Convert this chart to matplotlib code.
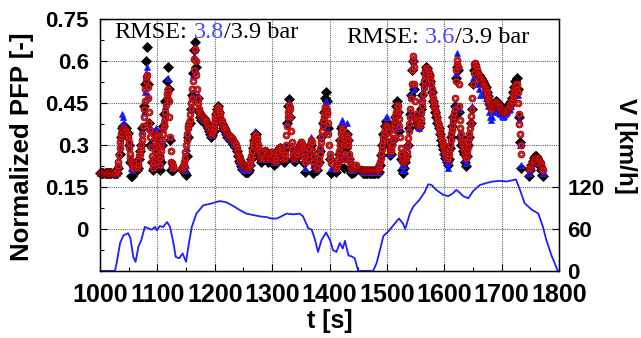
import numpy as np
import matplotlib
matplotlib.use("Agg")
import matplotlib.pyplot as plt
from matplotlib.ticker import MultipleLocator
from matplotlib.path import Path

N = np.nan

# red circles: 1 s sampling starting at 1000 s
red_start, red_step = 1000, 1
red_v = [
    0.20, 0.20, 0.20, 0.20, 0.20, 0.20, 0.20, 0.20, 0.20, 0.20,
    0.20, 0.20, 0.20, 0.20, 0.20, 0.20, 0.20, 0.20, 0.20, 0.20,
    0.20, 0.20, 0.20, 0.20, 0.20, 0.20, 0.20, 0.20, 0.20, 0.205,
    0.21, 0.225, 0.24, 0.265, 0.29, 0.31, 0.33, 0.34, 0.35, 0.355,
    0.36, 0.36, 0.36, 0.358, 0.355, 0.352, 0.35, 0.345, 0.34, 0.325,
    0.31, 0.29, 0.27, 0.255, 0.24, 0.235, 0.23, 0.225, 0.22, N,
    N, N, N, N, 0.22, 0.225, 0.23, 0.245, 0.26, 0.27,
    0.28, 0.29, 0.30, 0.32, 0.34, 0.37, 0.40, 0.43, 0.46, 0.50,
    0.53, 0.545, 0.55, 0.51, 0.47, 0.42, 0.38, 0.355, 0.33, 0.295,
    0.26, 0.24, 0.22, 0.235, 0.25, 0.28, 0.31, 0.325, 0.34, 0.335,
    0.33, 0.30, 0.27, 0.25, 0.23, 0.255, 0.28, 0.30, 0.32, 0.34,
    0.36, 0.37, 0.38, 0.40, 0.42, 0.445, 0.47, 0.485, 0.50, 0.49,
    0.46, 0.40, 0.33, 0.28, 0.24, 0.235, 0.23, 0.225, 0.22, N,
    N, N, N, N, N, N, N, N, N, N,
    N, N, 0.215, 0.22, 0.22, 0.225, 0.23, 0.24, 0.255, 0.275,
    0.30, 0.32, 0.34, 0.36, 0.37, 0.38, 0.39, 0.41, 0.43, 0.45,
    0.47, 0.50, 0.53, 0.57, 0.61, 0.64, 0.645, 0.60, 0.55, 0.50,
    0.47, 0.45, 0.43, 0.42, 0.41, 0.405, 0.40, 0.405, 0.405, 0.40,
    0.40, 0.398, 0.395, 0.39, 0.39, 0.385, 0.38, 0.375, 0.37, 0.365,
    0.36, 0.355, 0.35, 0.345, 0.34, 0.34, 0.345, 0.35, 0.36, 0.375,
    0.39, 0.40, 0.41, 0.42, 0.425, 0.43, 0.435, 0.43, 0.42, 0.41,
    0.40, 0.39, 0.385, 0.38, 0.37, 0.368, 0.365, 0.362, 0.36, 0.355,
    0.35, 0.345, 0.34, 0.338, 0.335, 0.333, 0.33, 0.33, 0.33, 0.328,
    0.325, 0.32, 0.315, 0.312, 0.31, 0.308, 0.305, 0.30, 0.29, 0.28,
    0.27, 0.265, 0.26, 0.255, 0.25, 0.245, 0.24, 0.238, 0.235, 0.232,
    0.23, 0.228, 0.225, 0.222, 0.22, 0.22, 0.22, 0.22, 0.22, 0.222,
    0.225, 0.23, 0.24, 0.25, 0.26, 0.28, 0.30, 0.31, 0.32, 0.33,
    0.335, 0.336, 0.335, 0.325, 0.31, 0.30, 0.29, 0.28, 0.27, 0.262,
    0.255, 0.253, 0.255, 0.26, 0.265, 0.272, 0.28, 0.282, 0.28, 0.275,
    0.27, 0.262, 0.255, 0.253, 0.255, 0.26, 0.265, 0.27, 0.275, 0.277,
    0.275, 0.268, 0.26, 0.252, 0.245, 0.243, 0.245, 0.255, 0.265, 0.275,
    0.285, 0.288, 0.29, 0.293, 0.295, 0.29, 0.285, 0.278, 0.27, 0.262,
    0.255, 0.252, 0.255, 0.27, 0.30, 0.335, 0.37, 0.40, 0.42, 0.435,
    0.445, 0.43, 0.40, 0.35, 0.31, 0.29, 0.27, 0.26, 0.255, 0.253,
    0.255, 0.257, 0.26, 0.265, 0.27, 0.278, 0.285, 0.292, 0.30, 0.305,
    0.31, 0.31, 0.305, 0.298, 0.29, 0.275, 0.26, 0.25, 0.24, N,
    N, N, N, 0.25, 0.27, 0.285, 0.30, 0.31, 0.32, 0.31,
    0.28, 0.26, 0.24, N, N, N, N, 0.22, 0.22, N,
    N, 0.235, 0.25, 0.27, 0.29, 0.31, 0.33, 0.35, 0.37, 0.385,
    0.40, 0.415, 0.43, 0.435, 0.43, 0.42, 0.41, 0.38, 0.34, 0.30,
    0.27, 0.25, 0.235, N, N, N, N, N, N, N,
    N, N, 0.22, 0.225, 0.235, 0.25, 0.265, 0.28, 0.30, 0.32,
    0.345, 0.36, 0.355, 0.33, 0.30, 0.27, 0.25, 0.27, 0.30, 0.32,
    0.335, 0.33, 0.32, 0.30, 0.27, 0.25, 0.24, 0.23, 0.22, 0.218,
    0.215, 0.217, 0.22, 0.222, 0.225, 0.228, 0.23, N, N, N,
    N, N, N, N, N, 0.215, 0.212, 0.21, 0.21, 0.21,
    0.21, 0.21, 0.21, 0.21, 0.21, 0.21, 0.21, 0.21, 0.21, 0.21,
    0.21, 0.21, 0.21, 0.21, 0.21, 0.21, 0.21, 0.21, 0.21, 0.21,
    0.21, 0.21, 0.21, 0.21, 0.212, 0.215, 0.22, 0.23, 0.24, 0.255,
    0.27, 0.285, 0.30, 0.315, 0.33, 0.345, 0.355, 0.365, 0.37, 0.372,
    0.37, 0.365, 0.35, 0.33, 0.31, 0.29, 0.28, 0.278, 0.285, 0.30,
    0.32, 0.34, 0.36, 0.375, 0.39, 0.405, 0.42, 0.435, 0.445, 0.44,
    0.42, 0.395, 0.37, 0.33, 0.29, 0.27, 0.255, 0.245, 0.24, 0.24,
    0.245, 0.248, 0.25, 0.255, 0.26, 0.275, 0.30, 0.325, 0.35, 0.375,
    0.40, 0.43, 0.47, 0.52, 0.57, 0.605, 0.62, 0.58, 0.52, 0.46,
    0.41, 0.395, 0.385, 0.38, 0.375, 0.372, 0.37, 0.372, 0.38, 0.395,
    0.42, 0.44, 0.46, 0.485, 0.51, 0.53, 0.55, 0.565, 0.575, 0.578,
    0.575, 0.57, 0.565, 0.56, 0.555, 0.545, 0.535, 0.52, 0.50, 0.485,
    0.47, 0.46, 0.45, 0.44, 0.43, 0.42, 0.41, 0.40, 0.39, 0.38,
    0.37, 0.36, 0.35, 0.34, 0.33, 0.322, 0.315, 0.305, 0.295, 0.288,
    0.28, 0.275, 0.27, 0.262, 0.255, 0.252, 0.25, 0.258, 0.27, 0.285,
    0.30, 0.32, 0.34, 0.355, 0.37, 0.385, 0.40, 0.415, 0.43, 0.47,
    0.53, 0.57, 0.59, 0.605, 0.58, 0.52, 0.44, 0.39, 0.36, 0.34,
    0.32, 0.31, 0.30, 0.295, 0.29, 0.28, 0.27, 0.262, 0.255, 0.265,
    0.28, 0.295, 0.31, 0.325, 0.34, 0.36, 0.38, 0.405, 0.43, 0.47,
    0.52, 0.56, 0.59, 0.595, 0.59, 0.585, 0.58, 0.57, 0.56, 0.555,
    0.55, 0.545, 0.54, 0.537, 0.535, 0.532, 0.53, 0.525, 0.52, 0.518,
    0.515, 0.508, 0.50, 0.495, 0.49, 0.48, 0.47, 0.462, 0.455, 0.448,
    0.44, 0.435, 0.43, 0.435, 0.44, 0.443, 0.445, 0.448, 0.45, 0.453,
    0.455, 0.453, 0.45, 0.448, 0.445, 0.442, 0.44, 0.435, 0.43, 0.428,
    0.425, 0.422, 0.42, 0.42, 0.42, 0.42, 0.42, 0.422, 0.425, 0.428,
    0.43, 0.432, 0.435, 0.438, 0.44, 0.445, 0.45, 0.455, 0.46, 0.47,
    0.48, 0.49, 0.50, 0.508, 0.515, 0.52, 0.52, 0.50, 0.49, 0.45,
    0.41, 0.375, 0.34, 0.30, 0.27, N, N, N, N, N,
    N, N, N, N, N, N, N, N, 0.215, 0.218,
    0.22, 0.225, 0.23, 0.235, 0.24, 0.245, 0.25, 0.252, 0.255, 0.255,
    0.255, 0.255, 0.255, 0.253, 0.25, 0.248, 0.245, 0.24, 0.235, 0.23,
    0.22, 0.215, 0.21,
]

# black diamonds: 2 s sampling starting at 1000 s
black_start, black_step = 1000, 2
black_v = [
    0.20, 0.20, 0.20, 0.20, 0.20, 0.20, 0.20, 0.20, 0.20, 0.20,
    0.20, 0.20, 0.20, 0.20, 0.20, 0.20, 0.22, 0.27, 0.33, 0.36,
    0.37, 0.37, 0.365, 0.36, 0.345, 0.30, 0.24, 0.19, 0.19, N,
    N, N, 0.21, 0.22, 0.25, 0.28, 0.30, 0.36, 0.44, 0.52,
    0.60, 0.65, 0.52, 0.38, 0.30, 0.24, 0.21, 0.22, 0.29, 0.35,
    0.34, 0.26, 0.21, 0.24, 0.30, 0.37, 0.41, 0.46, 0.53, 0.58,
    0.50, 0.32, 0.21, 0.21, 0.21, N, N, N, N, N,
    N, N, 0.21, 0.205, 0.20, 0.195, 0.26, 0.33, 0.38, 0.43,
    0.48, 0.56, 0.64, 0.67, 0.58, 0.47, 0.42, 0.40, 0.39, 0.39,
    0.39, 0.385, 0.38, 0.37, 0.36, 0.35, 0.34, 0.33, 0.335, 0.35,
    0.38, 0.41, 0.43, 0.44, 0.42, 0.39, 0.375, 0.36, 0.355, 0.35,
    0.34, 0.33, 0.325, 0.32, 0.32, 0.315, 0.305, 0.30, 0.295, 0.28,
    0.26, 0.245, 0.235, 0.225, 0.215, 0.21, 0.205, 0.205, 0.205, 0.205,
    0.21, 0.23, 0.25, 0.29, 0.32, 0.34, 0.34, 0.30, 0.27, 0.255,
    0.24, 0.245, 0.26, 0.27, 0.265, 0.255, 0.24, 0.245, 0.26, 0.27,
    0.26, 0.245, 0.23, 0.235, 0.26, 0.28, 0.285, 0.29, 0.28, 0.26,
    0.24, 0.245, 0.29, 0.38, 0.44, 0.465, 0.40, 0.29, 0.25, 0.245,
    0.245, 0.255, 0.265, 0.28, 0.295, 0.305, 0.30, 0.28, 0.235, 0.205,
    N, N, 0.26, 0.29, 0.30, 0.25, 0.20, N, N, 0.21,
    N, 0.24, 0.28, 0.33, 0.38, 0.42, 0.47, 0.49, 0.46, 0.36,
    0.25, 0.20, N, N, N, N, 0.205, 0.23, 0.27, 0.32,
    0.36, 0.37, 0.30, 0.22, 0.29, 0.34, 0.32, 0.25, 0.21, 0.20,
    0.20, 0.205, 0.21, 0.215, N, N, N, N, 0.205, 0.20,
    0.20, 0.20, 0.20, 0.20, 0.20, 0.20, 0.20, 0.20, 0.20, 0.20,
    0.20, 0.20, 0.20, 0.205, 0.23, 0.265, 0.30, 0.34, 0.37, 0.385,
    0.38, 0.35, 0.30, 0.265, 0.27, 0.32, 0.37, 0.40, 0.44, 0.46,
    0.42, 0.35, 0.25, 0.21, 0.20, 0.22, 0.24, 0.26, 0.30, 0.36,
    0.41, 0.48, 0.57, 0.60, 0.50, 0.40, 0.38, 0.37, 0.365, 0.38,
    0.43, 0.48, 0.52, 0.56, 0.58, 0.575, 0.56, 0.55, 0.53, 0.49,
    0.46, 0.44, 0.42, 0.40, 0.38, 0.36, 0.34, 0.32, 0.30, 0.285,
    0.27, 0.255, 0.24, 0.23, 0.25, 0.29, 0.33, 0.37, 0.40, 0.44,
    0.54, 0.58, 0.57, 0.42, 0.33, 0.30, 0.28, 0.27, 0.24, 0.225,
    0.26, 0.30, 0.33, 0.38, 0.43, 0.52, 0.57, 0.57, 0.56, 0.55,
    0.55, 0.545, 0.54, 0.535, 0.525, 0.52, 0.51, 0.49, 0.475, 0.46,
    0.445, 0.44, 0.445, 0.45, 0.455, 0.46, 0.455, 0.45, 0.445, 0.44,
    0.435, 0.43, 0.43, 0.43, 0.435, 0.44, 0.445, 0.45, 0.46, 0.47,
    0.49, 0.51, 0.53, 0.54, 0.50, 0.40, 0.31, 0.22, N, N,
    N, N, N, N, 0.19, 0.21, 0.23, 0.245, 0.255, 0.26,
    0.26, 0.255, 0.245, 0.23, 0.21, 0.195, 0.19,
]

# blue triangles: 2 s sampling starting at 1000 s
blue_start, blue_step = 1000, 2
blue_v = [
    0.20, 0.20, 0.20, 0.20, 0.20, 0.20, 0.20, 0.20, 0.20, 0.20,
    0.20, 0.20, 0.20, 0.20, 0.20, 0.20, 0.23, 0.30, 0.37, 0.41,
    0.40, 0.38, 0.37, 0.36, 0.34, 0.30, 0.25, 0.22, 0.21, N,
    N, N, 0.22, 0.23, 0.26, 0.29, 0.31, 0.35, 0.42, 0.49,
    0.56, 0.58, 0.48, 0.36, 0.30, 0.25, 0.23, 0.24, 0.30, 0.36,
    0.35, 0.28, 0.23, 0.26, 0.31, 0.37, 0.40, 0.44, 0.50, 0.54,
    0.47, 0.33, 0.23, 0.22, 0.22, N, N, N, N, N,
    N, N, 0.22, 0.22, 0.21, 0.23, 0.29, 0.34, 0.38, 0.43,
    0.48, 0.55, 0.62, 0.65, 0.57, 0.48, 0.43, 0.41, 0.40, 0.40,
    0.395, 0.39, 0.385, 0.375, 0.365, 0.355, 0.345, 0.335, 0.34, 0.355,
    0.385, 0.41, 0.43, 0.44, 0.42, 0.395, 0.38, 0.365, 0.36, 0.352,
    0.342, 0.333, 0.328, 0.325, 0.322, 0.318, 0.31, 0.305, 0.298, 0.285,
    0.265, 0.25, 0.24, 0.23, 0.222, 0.215, 0.212, 0.21, 0.212, 0.215,
    0.22, 0.235, 0.255, 0.30, 0.33, 0.35, 0.34, 0.305, 0.28, 0.26,
    0.25, 0.25, 0.262, 0.275, 0.272, 0.262, 0.25, 0.25, 0.262, 0.272,
    0.268, 0.255, 0.24, 0.24, 0.262, 0.282, 0.288, 0.292, 0.282, 0.265,
    0.25, 0.25, 0.30, 0.38, 0.43, 0.455, 0.41, 0.30, 0.26, 0.25,
    0.25, 0.258, 0.268, 0.282, 0.298, 0.31, 0.305, 0.285, 0.25, 0.22,
    N, N, 0.28, 0.31, 0.33, 0.27, 0.23, N, N, 0.215,
    N, 0.245, 0.29, 0.33, 0.37, 0.41, 0.45, 0.46, 0.44, 0.35,
    0.26, 0.22, N, N, N, N, 0.215, 0.24, 0.28, 0.33,
    0.38, 0.39, 0.31, 0.25, 0.31, 0.38, 0.33, 0.27, 0.23, 0.215,
    0.21, 0.215, 0.22, 0.225, N, N, N, N, 0.21, 0.205,
    0.205, 0.205, 0.205, 0.205, 0.205, 0.205, 0.205, 0.205, 0.205, 0.205,
    0.205, 0.205, 0.205, 0.21, 0.23, 0.26, 0.30, 0.34, 0.375, 0.40,
    0.40, 0.36, 0.30, 0.27, 0.28, 0.31, 0.36, 0.39, 0.43, 0.44,
    0.42, 0.36, 0.27, 0.23, 0.21, 0.23, 0.245, 0.26, 0.30, 0.36,
    0.41, 0.48, 0.58, 0.60, 0.50, 0.40, 0.375, 0.365, 0.36, 0.375,
    0.42, 0.47, 0.51, 0.55, 0.57, 0.57, 0.56, 0.545, 0.525, 0.49,
    0.46, 0.44, 0.42, 0.40, 0.38, 0.36, 0.34, 0.32, 0.30, 0.28,
    0.265, 0.25, 0.235, 0.22, 0.245, 0.29, 0.33, 0.37, 0.40, 0.44,
    0.56, 0.63, 0.58, 0.43, 0.34, 0.31, 0.29, 0.275, 0.25, 0.235,
    0.265, 0.30, 0.33, 0.38, 0.44, 0.54, 0.59, 0.58, 0.56, 0.52,
    0.50, 0.48, 0.48, 0.485, 0.49, 0.48, 0.47, 0.46, 0.44, 0.42,
    0.40, 0.39, 0.40, 0.42, 0.43, 0.435, 0.43, 0.42, 0.415, 0.41,
    0.405, 0.40, 0.405, 0.41, 0.415, 0.42, 0.425, 0.43, 0.44, 0.45,
    0.47, 0.49, 0.51, 0.52, 0.48, 0.39, 0.30, 0.23, N, N,
    N, N, N, N, 0.20, 0.215, 0.235, 0.245, 0.25, 0.255,
    0.255, 0.25, 0.24, 0.235, 0.22, 0.21, 0.20,
]

# vehicle speed line (right axis)
speed_t = [1000, 1026, 1029, 1035, 1041, 1049, 1053, 1058, 1062, 1067,
           1072, 1078, 1084, 1090, 1096, 1099, 1104, 1110, 1117, 1122,
           1128, 1132, 1138, 1144, 1150, 1154, 1160, 1168, 1180, 1192,
           1200, 1209, 1221, 1232, 1244, 1255, 1267, 1279, 1290, 1299,
           1308, 1316, 1325, 1337, 1348, 1354, 1363, 1369, 1375, 1380,
           1386, 1394, 1401, 1406, 1412, 1418, 1423, 1427, 1433, 1438,
           1444, 1450, 1476, 1482, 1488, 1494, 1502, 1505, 1514, 1521,
           1528, 1532, 1540, 1546, 1557, 1566, 1572, 1578, 1586, 1598,
           1607, 1615, 1621, 1627, 1633, 1642, 1650, 1662, 1674, 1685,
           1697, 1708, 1720, 1725, 1732, 1740, 1752, 1764, 1772, 1778,
           1787, 1796, 1798]
speed_v = [0, 0, 11, 40, 51, 54, 47, 20, 13, 35,
           44, 63, 61, 59, 63, 58, 64, 63, 70, 63,
           40, 20, 18, 25, 13, 35, 63, 82, 94, 96,
           98, 100, 98, 93, 87, 82, 80, 78, 77, 75,
           75, 78, 82, 81, 82, 78, 61, 59, 44, 27,
           44, 55, 44, 30, 27, 40, 32, 43, 22, 21,
           18, 0, 0, 11, 30, 50, 56, 59, 68, 75,
           68, 60, 82, 92, 102, 113, 124, 123, 116, 109,
           107, 111, 116, 112, 107, 104, 114, 123, 126, 128,
           129, 128, 130, 131, 116, 97, 88, 82, 63, 44,
           22, 4, 0]

x_ticks = [1000, 1100, 1200, 1300, 1400, 1500, 1600, 1700, 1800]
y_ticks = [0, 0.15, 0.3, 0.45, 0.6, 0.75]
y_ticklabels = ["0", "0.15", "0.3", "0.45", "0.6", "0.75"]
v_ticks = [0, 60, 120]

SANS = "Liberation Sans"
SERIF = "Liberation Serif"

red_t = red_start + red_step * np.arange(len(red_v))
black_t = black_start + black_step * np.arange(len(black_v))
blue_t = blue_start + blue_step * np.arange(len(blue_v))

# ring-shaped marker (red ring with hollow centre)
ang = np.linspace(0, 2 * np.pi, 25)
outer = np.column_stack([np.cos(ang), np.sin(ang)])
inner = 0.45 * np.column_stack([np.cos(ang[::-1]), np.sin(ang[::-1])])
ring_codes = ([Path.MOVETO] + [Path.LINETO] * 23 + [Path.CLOSEPOLY]) * 2
ring = Path(np.vstack([outer, inner]), ring_codes)

fig = plt.figure(figsize=(6.41, 3.38), dpi=100)
ax = fig.add_axes([100/641, 1-270.9/338, 459/641, 251.4/338])

ax.plot(black_t, black_v, ls="none", marker="D", ms=4.6, mfc="black", mec="black",
        mew=0.5, clip_on=False, zorder=3)
ax.plot(blue_t, blue_v, ls="none", marker="^", ms=4.8, mfc="#0a0aff", mec="#2a2aff",
        mew=0.6, clip_on=False, zorder=4)
ax.plot(red_t, red_v, ls="none", marker=ring, ms=5.0, mfc="#ee2222", mec="#8a0000",
        mew=0.55, clip_on=False, zorder=5)

ax.set_xlim(1000, 1800)
ax.set_ylim(-0.15, 0.75)
ax.set_xticks(x_ticks)
ax.xaxis.set_minor_locator(MultipleLocator(50))
ax.set_yticks(y_ticks)
ax.set_yticklabels(y_ticklabels)
ax.yaxis.set_minor_locator(MultipleLocator(0.075))
ax.grid(True, which="major", linestyle=(0, (1, 1)), color="#666666", lw=0.8)
ax.tick_params(which="both", direction="in", width=0.8)
ax.tick_params(which="major", length=5)
ax.tick_params(which="minor", length=3)
ax.tick_params(axis="x", labelsize=18, pad=8.5)
ax.tick_params(axis="y", labelsize=16, pad=8)
for lab in ax.get_xticklabels() + ax.get_yticklabels():
    lab.set_fontfamily(SANS)
    lab.set_fontweight("bold")
for s in ax.spines.values():
    s.set_linewidth(1.0)

ax.set_xlabel("t [s]", fontsize=18, fontweight="bold", family=SANS, labelpad=1.5)

ax2 = ax.twinx()
ax2.plot(speed_t, speed_v, color="#1f1fff", lw=1.3, zorder=2)
ax2.set_ylim(0, 360)
ax2.set_yticks(v_ticks)
ax2.tick_params(direction="in", length=5, width=0.8, labelsize=16, pad=6)
for lab in ax2.get_yticklabels():
    lab.set_fontfamily(SANS)
    lab.set_fontweight("bold")

fig.text(22/641, 1-147/338, "Normalized PFP [-]", rotation=90, ha="center", va="center",
         fontsize=18.5, fontweight="bold", family=SANS)
fig.text(626/641, 1-146/338, "V [km/h]", rotation=270, ha="center", va="center",
         fontsize=17.5, fontweight="bold", family=SANS)

def rmse_text(x, y, val):
    t1 = fig.text(x, y, "RMSE:", fontsize=17.5, family=SERIF, ha="left", va="baseline")
    t2 = ax.annotate(val, xy=(1, 0), xycoords=t1, xytext=(4.4, 0), textcoords="offset points",
                     fontsize=17.5, family=SERIF, color="#4848ff", ha="left", va="bottom")
    ax.annotate("/3.9 bar", xy=(1, 0), xycoords=t2, fontsize=17.5, family=SERIF,
                ha="left", va="bottom")

rmse_text(114.7/641, 1-38.3/338, "3.8")
rmse_text(346/641, 1-43.3/338, "3.6")

fig.savefig("out.png", dpi=100)
